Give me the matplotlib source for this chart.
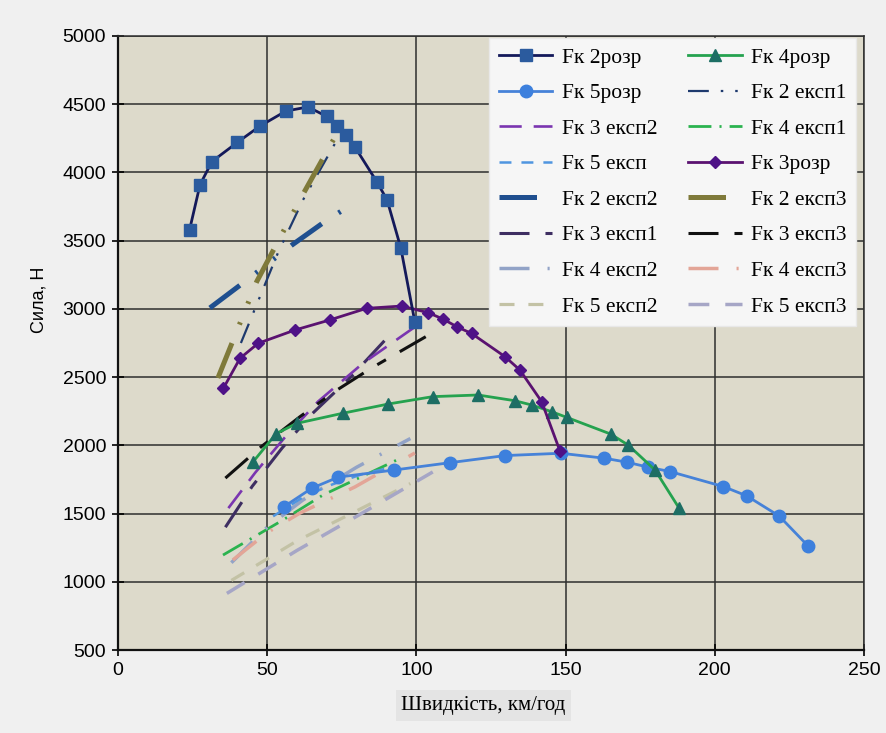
import numpy as np
import matplotlib
matplotlib.use('Agg')
import matplotlib.pyplot as plt

plt.rcParams['lines.scale_dashes'] = False

# calculated curves (markers)
x_2r = [24, 27.5, 31.5, 40, 47.6, 56.3, 63.7, 70, 73.4, 76.4, 79.4, 86.8, 90.2, 94.8, 99.5]
y_2r = [3580, 3910, 4080, 4220, 4340, 4450, 4480, 4410, 4340, 4275, 4187, 3930, 3798, 3446, 2904]

x_3r = [35.3, 40.9, 47, 59.3, 71, 83.3, 95.1, 104, 109, 113.5, 118.5, 129.7, 134.7, 142, 148.1]
y_3r = [2417, 2638, 2748, 2845, 2919, 3004, 3021, 2972, 2925, 2870, 2820, 2650, 2552, 2320, 1960]

x_4r = [45.3, 53, 59.9, 75.3, 90.6, 105.5, 120.7, 133, 138.6, 145.3, 150.4, 165.1, 171, 180, 188.1]
y_4r = [1880, 2085, 2161, 2235, 2303, 2357, 2369, 2327, 2296, 2247, 2205, 2083, 2002, 1819, 1538]

x_5r = [55.6, 64.9, 73.8, 92.5, 111.3, 129.7, 148.4, 162.9, 170.5, 177.7, 185, 202.9, 210.7, 221.6, 231.3]
y_5r = [1550, 1685, 1767, 1819, 1873, 1925, 1942, 1906, 1877, 1840, 1808, 1698, 1630, 1482, 1262]

# experimental lines
x_2e1 = [41.2, 53.6, 62, 73.4]
y_2e1 = [2750, 3410, 3798, 4238]
x_2e2 = [30.8, 41.9, 58.3, 68.7, 80.1]
y_2e2 = [3007, 3190, 3468, 3630, 3791]
x_2e3 = [33.5, 46.5, 62, 74]
y_2e3 = [2494, 3200, 3840, 4310]

x_3e1 = [36, 45, 55, 65, 78, 92]
y_3e1 = [1400, 1700, 1980, 2230, 2500, 2830]
x_3e2 = [37, 46, 56, 67, 82, 99]
y_3e2 = [1540, 1800, 2060, 2320, 2600, 2860]
x_3e3 = [36, 48, 61, 73, 85, 107]
y_3e3 = [1760, 1990, 2210, 2400, 2567, 2845]

x_4e1 = [35.2, 55.3, 68.7, 93.5]
y_4e1 = [1196, 1453, 1636, 1893]
x_4e2 = [38, 50, 62, 80, 98]
y_4e2 = [1140, 1400, 1600, 1840, 2050]
x_4e3 = [38.5, 50, 61, 79.4, 99.5]
y_4e3 = [1160, 1360, 1504, 1695, 1944]

x_5e = [52, 62, 72, 82, 92]
y_5e = [1480, 1620, 1715, 1790, 1840]
x_5e2 = [38, 60, 80, 98]
y_5e2 = [1010, 1300, 1520, 1720]
x_5e3 = [36.5, 60, 80, 105.5]
y_5e3 = [915, 1230, 1480, 1805]

fig = plt.figure(figsize=(8.87, 7.33), dpi=100, facecolor='#F0F0F0')
ax = fig.add_axes([0.133, 0.1132, 0.841, 0.8377])
ax.set_facecolor('#DDDACB')

lines = {}
# thick dashed with dots
patt_big = (0, (27, 14.4, 1.8, 14.4, 1.8, 14.4))
lines['2e1'], = ax.plot(x_2e1, y_2e1, color='#1E3A6E', lw=1.6, ls=(0, (15, 8.6, 1.8, 8.6, 1.8, 8.6)), label='Fк 2 експ1')
lines['2e2'], = ax.plot(x_2e2, y_2e2, color='#1F4F8F', lw=3.6, ls=patt_big, label='Fк 2 експ2')
lines['2e3'], = ax.plot(x_2e3, y_2e3, color='#7F7A3A', lw=3.6, ls=patt_big, label='Fк 2 експ3')
lines['3e1'], = ax.plot(x_3e1, y_3e1, color='#3E2E62', lw=2.2, ls=(0, (21.6, 11.5, 7.2, 11.5)), label='Fк 3 експ1')
lines['3e2'], = ax.plot(x_3e2, y_3e2, color='#7A35B0', lw=1.9, ls=(0, (16, 8.6)), label='Fк 3 експ2')
lines['3e3'], = ax.plot(x_3e3, y_3e3, color='#111111', lw=2.2, ls=(0, (21.6, 11.5, 7.2, 11.5)), label='Fк 3 експ3')
lines['4e1'], = ax.plot(x_4e1, y_4e1, color='#2BB34F', lw=2.0, ls=(0, (16.5, 5.8, 1.5, 5.8)), label='Fк 4 експ1')
lines['4e2'], = ax.plot(x_4e2, y_4e2, color='#92A3C7', lw=2.5, ls=(0, (21.6, 13, 1.5, 13)), label='Fк 4 експ2')
lines['4e3'], = ax.plot(x_4e3, y_4e3, color='#E3A597', lw=2.5, ls=(0, (21.6, 13, 1.5, 13)), label='Fк 4 експ3')
lines['5e'], = ax.plot(x_5e, y_5e, color='#4F95E0', lw=1.8, ls=(0, (8.6, 7.2)), label='Fк 5 експ')
lines['5e2'], = ax.plot(x_5e2, y_5e2, color='#C3C2A5', lw=2.3, ls=(0, (10.8, 10)), label='Fк 5 експ2')
lines['5e3'], = ax.plot(x_5e3, y_5e3, color='#A6A6C6', lw=2.5, ls=(0, (15, 11.5)), label='Fк 5 експ3')

lines['5r'], = ax.plot(x_5r, y_5r, color='#4682D8', lw=2.0, marker='o', ms=9, mfc='#3D80DD', mec='#3D80DD', label='Fк 5розр')
lines['4r'], = ax.plot(x_4r, y_4r, color='#25A24F', lw=2.0, marker='^', ms=8, mfc='#1D6E64', mec='#1D6E64', label='Fк 4розр')
lines['3r'], = ax.plot(x_3r, y_3r, color='#5A1270', lw=2.0, marker='D', ms=6.5, mfc='#4E1287', mec='#4E1287', label='Fк 3розр')
lines['2r'], = ax.plot(x_2r, y_2r, color='#14195A', lw=2.0, marker='s', ms=8.5, mfc='#2B5B9E', mec='#2B5B9E', label='Fк 2розр')

ax.set_xlim(0, 250)
ax.set_ylim(500, 5000)
ax.set_xticks(np.arange(0, 251, 50))
ax.set_yticks(np.arange(500, 5001, 500))
ax.grid(True, color='#2E2E2E', lw=1.1)
ax.set_axisbelow(True)
for s in ax.spines.values():
    s.set_color('#2E2E2E')
    s.set_linewidth(1.1)
ax.spines['left'].set_color('#111111')
ax.spines['bottom'].set_color('#111111')
ax.spines['left'].set_linewidth(1.6)
ax.spines['bottom'].set_linewidth(1.6)
ax.tick_params(direction='inout', length=9, width=1.2, labelsize=14, pad=4)
for lab in ax.get_xticklabels() + ax.get_yticklabels():
    lab.set_family('Liberation Sans')

ax.set_ylabel('Сила, Н', fontsize=13, family='Liberation Sans')
ax.yaxis.set_label_coords(-0.094, 0.57)
ax.set_xlabel('Швидкість, км/год', fontsize=15, family='Liberation Serif',
              bbox=dict(facecolor='#E4E4E4', edgecolor='none', pad=4))
ax.xaxis.set_label_coords(0.49, -0.075)

order = ['2r', '5r', '3e2', '5e', '2e2', '3e1', '4e2', '5e2',
         '4r', '2e1', '4e1', '3r', '2e3', '3e3', '4e3', '5e3']
leg = ax.legend([lines[k] for k in order], [lines[k].get_label() for k in order],
                ncol=2, loc='upper right', bbox_to_anchor=(0.99, 0.997),
                borderaxespad=0.0,
                prop={'family': 'Liberation Serif', 'size': 15.5},
                handlelength=2.5, handletextpad=0.45, columnspacing=1.4,
                labelspacing=0.72, frameon=True, fancybox=False,
                borderpad=0.45, framealpha=1)
leg.get_frame().set_facecolor('#F6F6F6')
leg.get_frame().set_edgecolor('#E8E8E8')

fig.savefig('out.png', dpi=100, facecolor=fig.get_facecolor())
